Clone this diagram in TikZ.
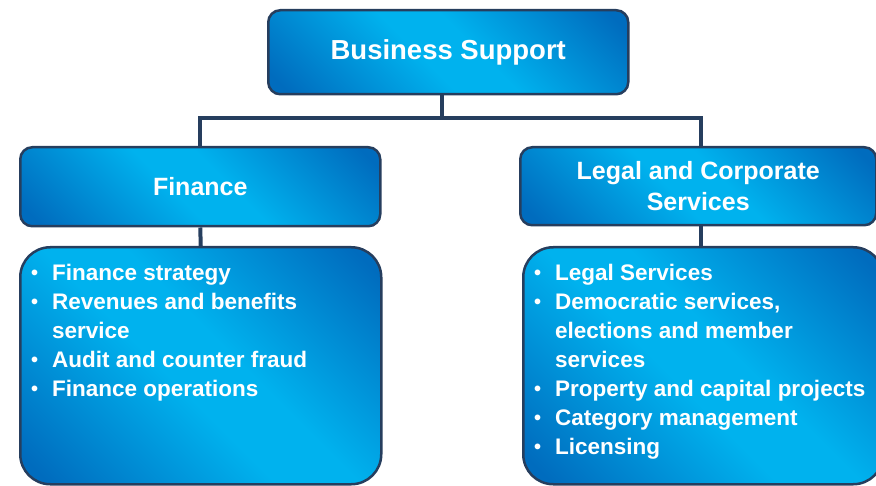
\documentclass[tikz,border=0pt]{standalone}
\usepackage{fontspec}
\setmainfont{Liberation Sans}
\definecolor{dk}{RGB}{0,108,190}
\definecolor{lt}{RGB}{0,178,238}
\definecolor{edge}{RGB}{38,62,94}
\pgfdeclarehorizontalshading{bluegrad}{100bp}{color(0bp)=(dk); color(18bp)=(dk); color(45bp)=(lt); color(55bp)=(lt); color(82bp)=(dk); color(100bp)=(dk)}
\newcommand\bul{\fontsize{20}{20}\selectfont\raisebox{1pt}{•}}
\begin{document}
\begin{tikzpicture}[x=1pt,y=-1pt,
  box/.style={draw=edge, line width=2.5pt, shading=bluegrad, shading angle=45,
    rounded corners=12pt, anchor=north west, inner sep=0pt, text=white, align=center},
  biglist/.style={box, rounded corners=30pt},
  listtext/.style={anchor=north west, inner sep=0pt, text=white,
    font=\bfseries\fontsize{22.5}{29}\selectfont},
  link/.style={draw=edge, line width=4pt}]
\useasboundingbox (0,0) rectangle (876,486);
\node[box, minimum width=360pt, minimum height=84pt,
  font=\bfseries\fontsize{27.5}{31}\selectfont] (top) at (267,9) {Business Support};
\node[box, minimum width=360pt, minimum height=79pt,
  font=\bfseries\fontsize{25}{31}\selectfont] (fin) at (19,146) {Finance};
\node[box, minimum width=356pt, minimum height=78pt,
  font=\bfseries\fontsize{25}{31}\selectfont] (leg) at (519,146) {Legal and Corporate\\Services};
\node[biglist, minimum width=361pt, minimum height=237pt] (finlist) at (19,246) {};
\node[biglist, minimum width=360pt, minimum height=237pt] (leglist) at (522,246) {};
\node[listtext] (fintext) at (31,260) {%
  \begin{tabular}{@{}p{21pt}@{}l@{}}
  \bul & Finance strategy\\
  \bul & Revenues and benefits\\
       & service\\
  \bul & Audit and counter fraud\\
  \bul & Finance operations
  \end{tabular}};
\node[listtext] (legtext) at (534,260) {%
  \begin{tabular}{@{}p{21pt}@{}l@{}}
  \bul & Legal Services\\
  \bul & Democratic services,\\
       & elections and member\\
       & services\\
  \bul & Property and capital projects\\
  \bul & Category management\\
  \bul & Licensing
  \end{tabular}};
\draw[link] ([xshift=-6pt]top.south) -- ++(0,23) -| (fin.north);
\draw[link] ([xshift=-6pt]top.south) -- ++(0,23) -| ([xshift=3pt]leg.north);
\draw[link] (fin.south) -- (finlist.north);
\draw[link] ([xshift=3pt]leg.south) -- ([xshift=3pt]leg.south |- leglist.north);
\end{tikzpicture}
\end{document}
